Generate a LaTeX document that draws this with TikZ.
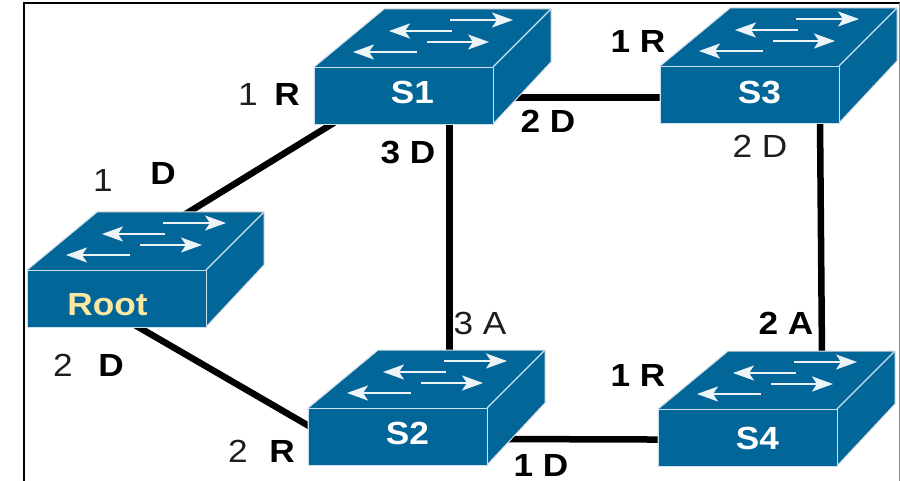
\documentclass[tikz,border=0pt]{standalone}
\usepackage{fontspec}
\setmainfont[FakeStretch=1.1]{Liberation Sans}
\usetikzlibrary{arrows.meta,backgrounds}
\definecolor{swblue}{RGB}{3,102,153}
\definecolor{swedge}{RGB}{205,226,238}
\definecolor{flowink}{RGB}{236,244,248}
\definecolor{rootlabel}{RGB}{250,232,160}
\definecolor{labelink}{RGB}{30,30,30}
\tikzset{
  link/.style={draw=black,line width=6.5pt},
  flow/.style={draw=flowink,line width=2pt,-{Stealth[length=21pt,width=15pt,inset=5pt]}},
  face/.style={fill=swblue,draw=swedge,line width=1.1pt,line join=round},
  swname/.style={font=\fontsize{32}{32}\selectfont\bfseries,inner sep=0pt},
  port/.style={font=\fontsize{32}{32}\selectfont,text=labelink,inner sep=0pt},
  portb/.style={port,font=\fontsize{32}{32}\selectfont\bfseries,text=black},
}
% name, x, y, label, label colour, label dx, label dy
\newcommand{\netswitch}[7]{%
  \begin{scope}[shift={(#2,#3)}]
    \fill[swblue,draw=black!12,line width=1pt,line join=round] (0,0) -- (70,-58) -- (237,-58) -- (237,-5) -- (179,57) -- (0,57) -- cycle;
    \draw[swedge,line width=1.1pt,line join=round] (179,0) -- (237,-58);
    \draw[swedge,line width=0.8pt] (0,0) -- (70,-58);
    \node[face,anchor=north west,minimum width=179pt,minimum height=57pt,inner sep=0pt] (#1) at (0,0) {};
    \node[swname,text=#5] (#1name) at (89.5+#6,28.5+#7) {#4};
    \draw[flow] (136,-47) -- (199,-47);
    \draw[flow] (138,-36) -- (75,-36);
    \draw[flow] (113,-25) -- (175,-25);
    \draw[flow] (103,-15) -- (39,-15);
  \end{scope}}
\begin{document}
\begin{tikzpicture}[x=1pt,y=-1pt]
\useasboundingbox (0,0) rectangle (900,481);
\netswitch{Root}{27}{270}{Root}{rootlabel}{-9}{6}
\netswitch{S1}{314}{67}{S1}{white}{9}{-3}
\netswitch{S3}{660}{66}{S3}{white}{10}{-2}
\netswitch{S2}{308}{408}{S2}{white}{10}{-3}
\netswitch{S4}{658}{409}{S4}{white}{10}{1}
\begin{scope}[on background layer]
  \draw[link] ([xshift=157pt,yshift=55pt]Root.north west) -- ([xshift=26pt,yshift=6pt]S1.south west);
  \draw[link] ([xshift=108pt,yshift=3pt]Root.south west) -- ([xshift=8pt,yshift=36pt]S2.south west);
  \draw[link,line width=7pt] ([xshift=135pt,yshift=5pt]S1.south west) -- ([xshift=141pt,yshift=52pt]S2.north west);
  \draw[link] ([xshift=17pt,yshift=-1.5pt]S1.east) -- ([xshift=5pt,yshift=-2.5pt]S3.west);
  \draw[link] ([xshift=160pt,yshift=5pt]S3.south west) -- ([xshift=164pt,yshift=52pt]S4.north west);
  \draw[link] ([xshift=20pt,yshift=-2pt]S2.east) -- ([xshift=5pt,yshift=-1.5pt]S4.west);
  \draw[black,line width=2.4pt] (24,481) -- (24,3) -- (899.5,3);
  \draw[black!45,line width=1pt] (899.5,3) -- (899.5,481);
\end{scope}
\node[port] (l1) at (103,180) {1};
\node[portb] (l2) at (163,173) {D};
\node[port] (l3) at (248,94) {1};
\node[portb] (l4) at (287,94) {R};
\node[portb] (l5) at (408,153) {3 D};
\node[portb] (l6) at (548,121) {2 D};
\node[portb] (l7) at (638,41) {1 R};
\node[port] (l8) at (760,146) {2 D};
\node[port] (l9) at (480,323) {3 A};
\node[portb] (l10) at (786,323) {2 A};
\node[portb] (l11) at (638,375) {1 R};
\node[port] (l12) at (63,365) {2};
\node[portb] (l13) at (111,365) {D};
\node[port] (l14) at (238,451) {2};
\node[portb] (l15) at (282,451) {R};
\node[portb] (l16) at (541,465) {1 D};
\end{tikzpicture}
\end{document}
